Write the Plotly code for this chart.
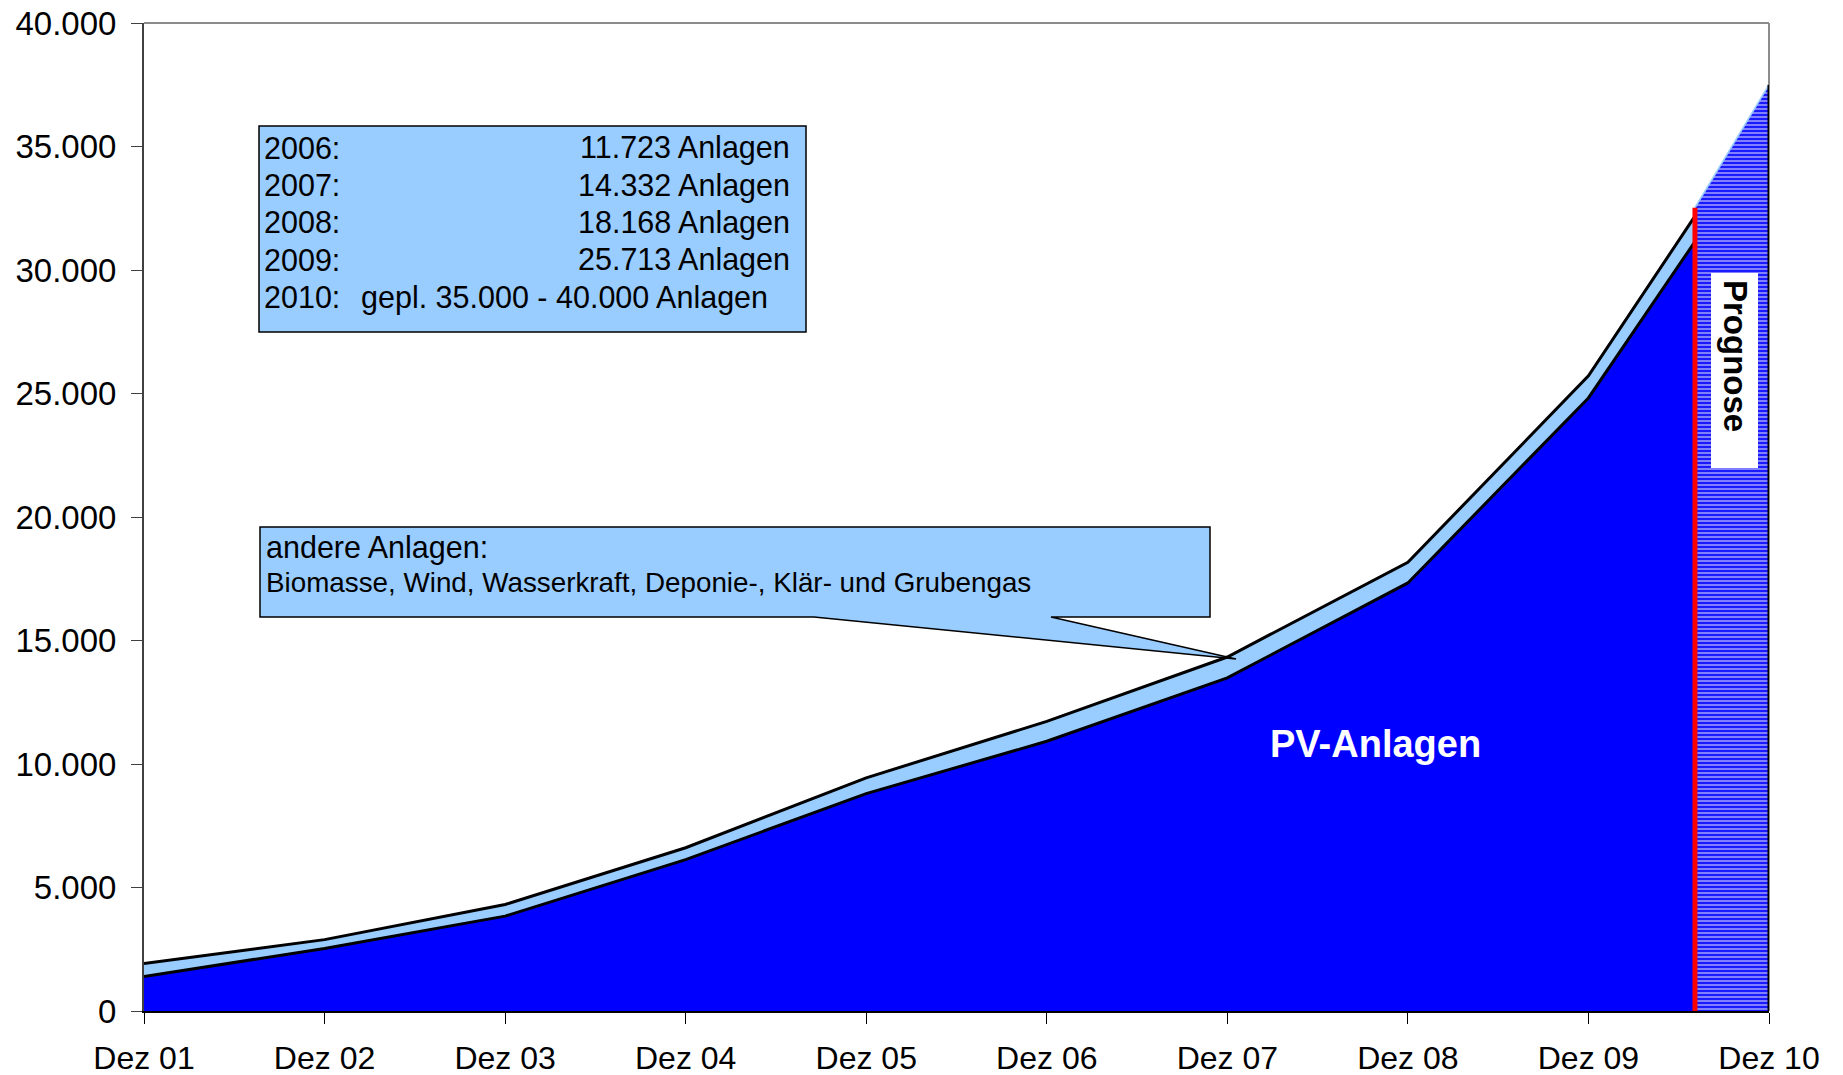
import plotly.graph_objects as go

# ---------------- data ----------------
categories = ['Dez 01', 'Dez 02', 'Dez 03', 'Dez 04', 'Dez 05',
              'Dez 06', 'Dez 07', 'Dez 08', 'Dez 09', 'Dez 10']
# x positions (index of month label); last measured point ~ Aug 2010
data_x = [0, 1, 2, 3, 4, 5, 6, 7, 8, 8.59]
pv_values = [1400, 2530, 3840, 6130, 8800, 10920, 13490, 17330, 24820, 31150]
total_values = [1920, 2890, 4310, 6610, 9440, 11723, 14332, 18168, 25713, 32180]
prognose_x = [8.59, 9]
prognose_values = [32520, 37500]

box_years = ['2006:', '2007:', '2008:', '2009:']
box_counts = ['11.723 Anlagen', '14.332 Anlagen', '18.168 Anlagen', '25.713 Anlagen']
box_2010_year = '2010:'
box_2010_text = 'gepl. 35.000 - 40.000 Anlagen'
callout_title = 'andere Anlagen:'
callout_text = 'Biomasse, Wind, Wasserkraft, Deponie-, Klär- und Grubengas'
pv_label = 'PV-Anlagen'
prognose_label = 'Prognose'

# ---------------- layout geometry (page pixels) ----------------
W, H = 1843, 1075
OFF = 8  # default body margin of the html page
X0, X1, Y0, Y1 = 144, 1769, 23, 1011


def px(x):
    return (x - X0) / (X1 - X0)


def py(y):
    return (Y1 - y) / (Y1 - Y0)


FONT = 'Liberation Sans, Arial, sans-serif'
BLUE = '#0000FF'
LIGHT = '#99CCFF'

fig = go.Figure()

# PV area
fig.add_trace(go.Scatter(
    x=data_x, y=pv_values, mode='lines', fill='tozeroy',
    fillcolor=BLUE, line=dict(color='black', width=3), hoverinfo='skip'))
# other plants (total)
fig.add_trace(go.Scatter(
    x=data_x, y=total_values, mode='lines', fill='tonexty',
    fillcolor=LIGHT, line=dict(color='black', width=3), hoverinfo='skip'))
# prognosis hatched area (blue with thin white horizontal stripes)
fig.add_trace(go.Scatter(
    x=prognose_x, y=prognose_values, mode='lines', fill='tozeroy',
    fillpattern=dict(shape='-', fgcolor='white', bgcolor=BLUE, size=4, solidity=0.6),
    line=dict(color=LIGHT, width=1.5), hoverinfo='skip'))
# right edge of the prognosis area
fig.add_trace(go.Scatter(
    x=[prognose_x[-1], prognose_x[-1]], y=[0, prognose_values[-1]], mode='lines',
    line=dict(color='black', width=3), hoverinfo='skip'))
# red separator line
fig.add_trace(go.Scatter(
    x=[prognose_x[0], prognose_x[0]], y=[0, prognose_values[0]], mode='lines',
    line=dict(color='#FF0000', width=5), hoverinfo='skip'))

shapes = []
# top & right frame (gray)
shapes.append(dict(type='line', xref='paper', yref='paper', x0=0, x1=1, y0=1, y1=1,
                   line=dict(color='#8C8C8C', width=2), layer='below'))
shapes.append(dict(type='line', xref='paper', yref='paper', x0=1, x1=1, y0=0, y1=1,
                   line=dict(color='#8C8C8C', width=2), layer='below'))
# info box
shapes.append(dict(type='rect', xref='paper', yref='paper',
                   x0=px(259), x1=px(806), y0=py(332), y1=py(126),
                   fillcolor=LIGHT, line=dict(color='black', width=1.5), layer='above'))
# callout box with pointer
pts = [(260, 527), (1210, 527), (1210, 617), (1051, 617), (1236, 659), (814, 617), (260, 617)]
path = 'M ' + ' L '.join(f'{px(a):.5f},{py(b):.5f}' for a, b in pts) + ' Z'
shapes.append(dict(type='path', xref='paper', yref='paper', path=path,
                   fillcolor=LIGHT, line=dict(color='black', width=1.5), layer='above'))
# white box behind "Prognose"
shapes.append(dict(type='rect', xref='paper', yref='paper',
                   x0=px(1711), x1=px(1758), y0=py(468), y1=py(273),
                   fillcolor='white', line=dict(width=0), layer='above'))

BOXFONT = 30.5
annotations = []
line_y = [147.5, 185, 222.5, 260]
for yr, cnt, yy in zip(box_years, box_counts, line_y):
    annotations.append(dict(xref='paper', yref='paper', x=px(262), y=py(yy), text=yr,
                            showarrow=False, xanchor='left', yanchor='middle',
                            font=dict(family=FONT, size=BOXFONT, color='black')))
    annotations.append(dict(xref='paper', yref='paper', x=px(792), y=py(yy), text=cnt,
                            showarrow=False, xanchor='right', yanchor='middle',
                            font=dict(family=FONT, size=BOXFONT, color='black')))
annotations.append(dict(xref='paper', yref='paper', x=px(262), y=py(297), text=box_2010_year,
                        showarrow=False, xanchor='left', yanchor='middle',
                        font=dict(family=FONT, size=BOXFONT, color='black')))
annotations.append(dict(xref='paper', yref='paper', x=px(359), y=py(297), text=box_2010_text,
                        showarrow=False, xanchor='left', yanchor='middle',
                        font=dict(family=FONT, size=BOXFONT, color='black')))
annotations.append(dict(xref='paper', yref='paper', x=px(264), y=py(547), text=callout_title,
                        showarrow=False, xanchor='left', yanchor='middle',
                        font=dict(family=FONT, size=BOXFONT, color='black')))
annotations.append(dict(xref='paper', yref='paper', x=px(264), y=py(582), text=callout_text,
                        showarrow=False, xanchor='left', yanchor='middle',
                        font=dict(family=FONT, size=27.8, color='black')))
annotations.append(dict(xref='paper', yref='paper', x=px(1375), y=py(744), text=pv_label,
                        showarrow=False, xanchor='center', yanchor='middle',
                        font=dict(family=FONT, size=38, color='white', weight='bold')))
annotations.append(dict(xref='paper', yref='paper', x=px(1736), y=py(356), text=prognose_label,
                        showarrow=False, xanchor='center', yanchor='middle', textangle=90,
                        font=dict(family=FONT, size=33, color='black', weight='bold')))

fig.update_layout(
    width=W - OFF, height=H - OFF,
    margin=dict(l=X0 - OFF, r=W - X1, t=Y0 - OFF, b=H - Y1, autoexpand=False),
    paper_bgcolor='white', plot_bgcolor='white',
    showlegend=False, separators=',.',
    font=dict(family=FONT, size=32, color='black'),
    shapes=shapes, annotations=annotations,
    xaxis=dict(range=[0, 9], tickmode='array', tickvals=list(range(len(categories))),
               ticktext=categories, showgrid=False, zeroline=False,
               showline=True, linecolor='black', linewidth=2,
               ticks='outside', ticklen=11, tickwidth=1, tickcolor='black',
               tickfont=dict(family=FONT, size=32, color='black'),
               ticklabelstandoff=7, ticklabeloverflow='allow', automargin=False),
    yaxis=dict(range=[0, 40000], dtick=5000, tickformat=',d', showgrid=False, zeroline=False,
               showline=True, linecolor='#404040', linewidth=2,
               ticks='outside', ticklen=11, tickwidth=1, tickcolor='#404040',
               tickfont=dict(family=FONT, size=33, color='black'),
               ticklabelstandoff=8, ticklabeloverflow='allow', automargin=False),
)

fig.write_html('out.html')
